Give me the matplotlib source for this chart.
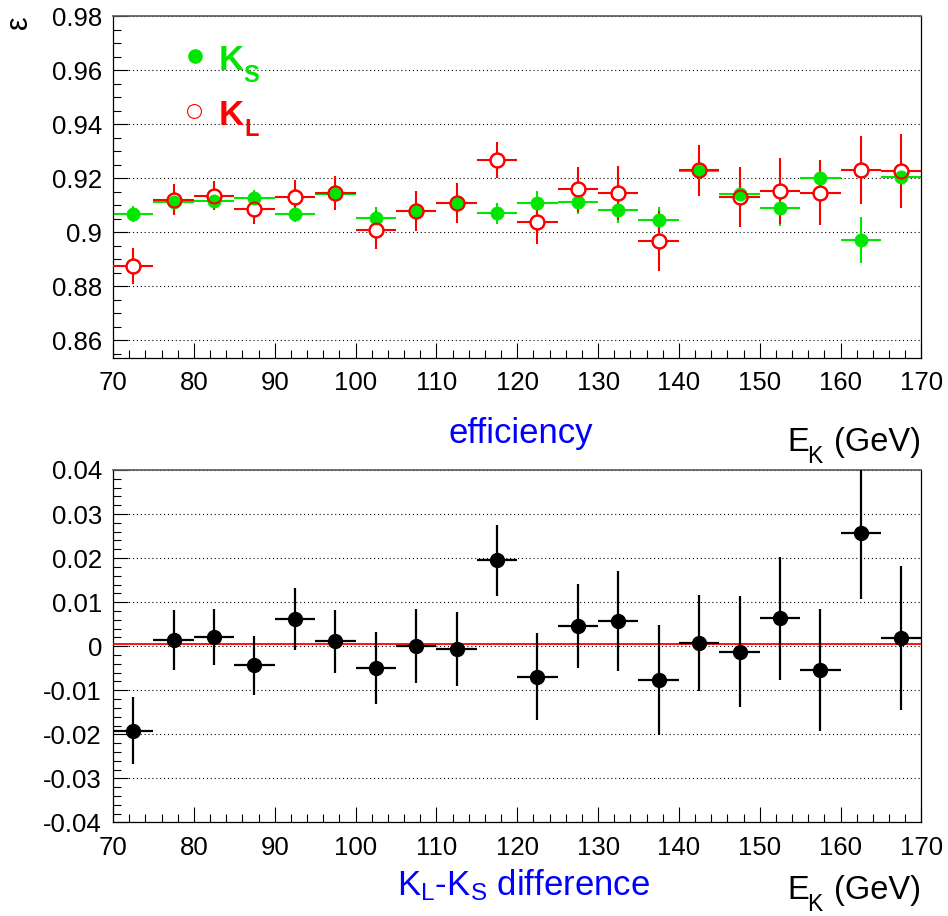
import matplotlib
matplotlib.use('Agg')
import matplotlib.pyplot as plt
from matplotlib.ticker import MultipleLocator, FormatStrFormatter

plt.rcParams['font.family'] = ['Liberation Sans', 'DejaVu Sans']
plt.rcParams['mathtext.fontset'] = 'custom'
plt.rcParams['mathtext.rm'] = 'Liberation Sans'
plt.rcParams['mathtext.it'] = 'Liberation Sans:italic'
plt.rcParams['mathtext.bf'] = 'Liberation Sans:bold'

# ---------------- data ----------------
ek = [72.5, 77.5, 82.5, 87.5, 92.5, 97.5, 102.5, 107.5, 112.5, 117.5,
      122.5, 127.5, 132.5, 137.5, 142.5, 147.5, 152.5, 157.5, 162.5, 167.5]
ek_halfbin = 2.5

ks_eff = [0.9067, 0.9112, 0.9116, 0.9126, 0.9067, 0.9141, 0.9054, 0.9077, 0.9110, 0.9070,
          0.9107, 0.9112, 0.9083, 0.9044, 0.9227, 0.9141, 0.9088, 0.9200, 0.8970, 0.9206]
ks_err = [0.0030, 0.0035, 0.0035, 0.0030, 0.0030, 0.0035, 0.0040, 0.0040, 0.0040, 0.0040,
          0.0045, 0.0045, 0.0050, 0.0050, 0.0060, 0.0060, 0.0065, 0.0065, 0.0085, 0.0090]
kl_eff = [0.8875, 0.9120, 0.9135, 0.9085, 0.9132, 0.9147, 0.9009, 0.9077, 0.9110, 0.9267,
          0.9038, 0.9159, 0.9144, 0.8967, 0.9230, 0.9131, 0.9153, 0.9147, 0.9230, 0.9227]
kl_err = [0.0068, 0.0057, 0.0054, 0.0056, 0.0060, 0.0063, 0.0070, 0.0074, 0.0074, 0.0067,
          0.0080, 0.0083, 0.0100, 0.0110, 0.0094, 0.0110, 0.0123, 0.0119, 0.0125, 0.0138]

diff = [-0.0192, 0.0015, 0.0021, -0.0043, 0.0062, 0.0011, -0.0049, 0.0000, -0.0006, 0.0195,
        -0.0069, 0.0046, 0.0057, -0.0076, 0.0008, -0.0013, 0.0063, -0.0054, 0.0258, 0.0019]
diff_err = [0.0076, 0.0068, 0.0064, 0.0067, 0.0070, 0.0072, 0.0081, 0.0084, 0.0084, 0.0080,
            0.0099, 0.0096, 0.0113, 0.0125, 0.0109, 0.0126, 0.0140, 0.0138, 0.0151, 0.0163]
fit_const = 0.0005

eff_ticks = [0.86, 0.88, 0.90, 0.92, 0.94, 0.96, 0.98]
diff_ticks = [-0.04, -0.03, -0.02, -0.01, 0.0, 0.01, 0.02, 0.03, 0.04]

# ---------------- figure ----------------
W, H = 948, 916
fig = plt.figure(figsize=(W / 100, H / 100), dpi=100)
ax1 = fig.add_axes([0.1192, 0.6092, 0.8528, 0.3733])
ax2 = fig.add_axes([0.1192, 0.1021, 0.8528, 0.3848])

GREEN = '#00e600'
RED = '#ff0000'
grid_ls = (0, (1, 2.5))


def px(x, y):
    return x / W, 1 - y / H


def style_axes(ax, yminor, yticks):
    ax.set_xlim(70, 170)
    ax.xaxis.set_major_locator(MultipleLocator(10))
    ax.xaxis.set_minor_locator(MultipleLocator(2))
    ax.set_yticks(yticks)
    ax.set_yticklabels(['%g' % t for t in yticks])
    ax.yaxis.set_minor_locator(MultipleLocator(yminor))
    ax.xaxis.set_major_formatter(FormatStrFormatter('%g'))
    ax.tick_params(which='both', direction='in', top=False, right=False, width=0.8,
                   labelsize=18.5)
    ax.tick_params(which='major', length=11)
    ax.tick_params(which='minor', length=5.5)
    ax.tick_params(axis='y', pad=8)
    ax.tick_params(axis='x', pad=9.5)
    ax.yaxis.grid(True, which='major', linestyle=grid_ls, color='black', linewidth=0.8)
    ax.set_axisbelow(True)
    for s in ['left', 'bottom', 'right']:
        ax.spines[s].set_linewidth(0.9)
        ax.spines[s].set_color('black')
    ax.spines['top'].set_linestyle((0, (1, 1)))
    ax.spines['top'].set_color('0.35')
    ax.spines['top'].set_linewidth(1.2)


# ---- top panel: efficiencies ----
ax1.set_ylim(0.8535, 0.98)
style_axes(ax1, 0.005, eff_ticks)

ax1.errorbar(ek, ks_eff, xerr=ek_halfbin, yerr=ks_err, fmt='none', ecolor=GREEN,
             elinewidth=1.5, capsize=0, zorder=2)
ax1.errorbar(ek, kl_eff, xerr=ek_halfbin, yerr=kl_err, fmt='none', ecolor=RED,
             elinewidth=1.5, capsize=0, zorder=3)
ax1.plot(ek, kl_eff, 'o', ms=10, mfc='white', mec=RED, mew=1.5, zorder=4)
ax1.plot(ek, ks_eff, 'o', ms=9.5, mfc=GREEN, mec=GREEN, mew=0.5, zorder=5)
ax1.plot(ek, kl_eff, 'o', ms=10, mfc='none', mec=RED, mew=1.5, zorder=6)

# legend-like labels
ax1.plot([0.1014], [0.883], 'o', ms=9.5, mfc=GREEN, mec=GREEN, transform=ax1.transAxes,
         clip_on=False)
ax1.plot([0.1006], [0.722], 'o', ms=10, mfc='none', mec=RED, mew=0.8,
         transform=ax1.transAxes, clip_on=False)
fig.text(*px(219, 70), 'K', color=GREEN, fontsize=25, fontweight='bold',
         ha='left', va='baseline')
fig.text(*px(243, 82), 'S', color=GREEN, fontsize=17, fontweight='bold',
         ha='left', va='baseline')
fig.text(*px(219, 125), 'K', color=RED, fontsize=25, fontweight='bold',
         ha='left', va='baseline')
fig.text(*px(244, 136), 'L', color=RED, fontsize=17, fontweight='bold',
         ha='left', va='baseline')

fig.text(*px(19, 22), '\u03b5', fontsize=22, rotation=90, ha='center', va='center')

# ---- bottom panel: difference ----
ax2.set_ylim(-0.04, 0.04)
style_axes(ax2, 0.002, diff_ticks)
ax2.axhline(fit_const, color=RED, linewidth=1.3, zorder=3)
ax2.errorbar(ek, diff, xerr=ek_halfbin, yerr=diff_err, fmt='o', ms=10, color='black',
             mfc='black', mec='black', elinewidth=1.6, capsize=0, zorder=4)

# ---- titles ----
fig.text(*px(521, 434), 'efficiency', color='blue', fontsize=25,
         ha='center', va='center')
fig.text(*px(523, 885), r'K$_{\mathrm{L}}$-K$_{\mathrm{S}}$ difference', color='blue',
         fontsize=25, ha='center', va='center')


def ek_title(y_base):
    fig.text(*px(787, y_base), 'E', fontsize=23.5, ha='left', va='baseline')
    fig.text(*px(807, y_base + 12), 'K', fontsize=16.5, ha='left', va='baseline')
    fig.text(*px(921, y_base), '(GeV)', fontsize=23.5, ha='right', va='baseline')


ek_title(451)
ek_title(899)

fig.savefig('out.png', dpi=100)
